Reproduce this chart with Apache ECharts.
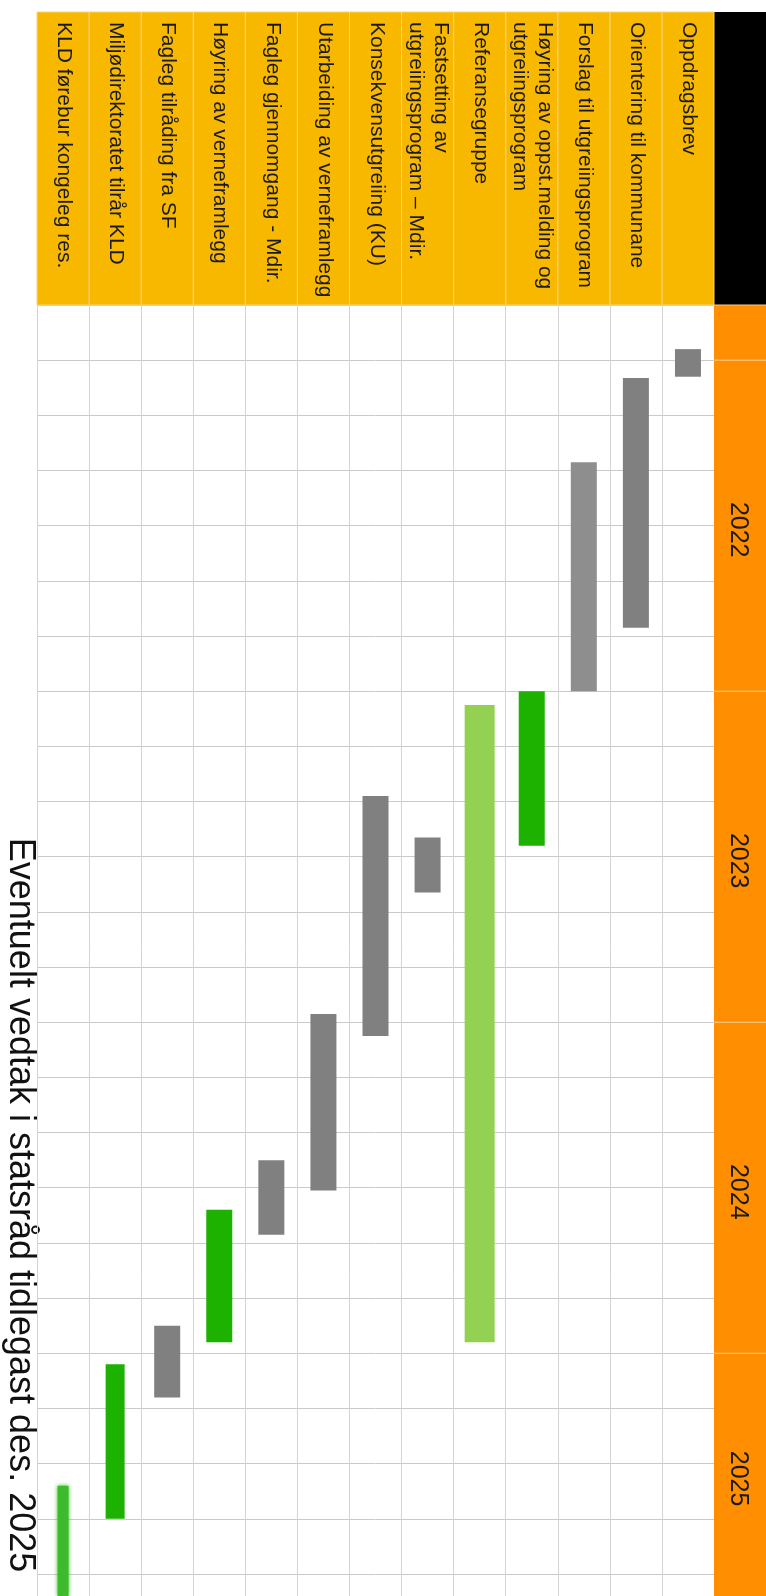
<!DOCTYPE html>
<html>
<head>
<meta charset="utf-8">
<title>Framdriftsplan</title>
<script src="https://cdn.jsdelivr.net/npm/echarts@6/dist/echarts.min.js"></script>
<style>
  html, body { margin: 0; padding: 0; background: #fff; }
  #chart { width: 766px; height: 1596px; }
</style>
</head>
<body>
<div id="chart"></div>
<script>
// oppgåver, frå høgre mot venstre
const tasks = [
    'Oppdragsbrev',
    'Orientering til kommunane',
    'Forslag til utgreiingsprogram',
    'Høyring av oppst.melding og\nutgreiingsprogram',
    'Referansegruppe',
    'Fastsetting av\nutgreiingsprogram – Mdir.',
    'Konsekvensutgreiing (KU)',
    'Utarbeiding av verneframlegg',
    'Fagleg gjennomgang - Mdir.',
    'Høyring av verneframlegg',
    'Fagleg tilråding fra SF',
    'Miljødirektoratet tilrår KLD',
    'KLD førebur kongeleg res.'
];
// start og slutt, i månader frå januar 2022
const startMonth = [-0.4, 0.65, 3.7, 12, 12.5, 17.3, 15.8, 23.7, 29, 30.8, 35, 36.4, 40.8];
const endMonth = [0.6, 9.7, 12, 17.6, 35.6, 19.3, 24.5, 30.1, 31.7, 35.6, 37.6, 42, 46];
// type aktivitet
const kinds = ['arbeid', 'arbeid', 'forslag', 'hoyring', 'gruppe', 'arbeid', 'arbeid',
    'arbeid', 'arbeid', 'hoyring', 'arbeid', 'tilraad', 'vedtak'];
const years = ['2022', '2023', '2024', '2025'];
const yearStart = [0, 12, 24, 36];
const note = 'Eventuelt vedtak i statsråd tidlegast des. 2025';

const FONT = "'Liberation Sans', Arial, sans-serif";
const LEFT = 37, RIGHT = 52, HEAD_TOP = 12, BODY_TOP = 305;
const T_MIN = -2, T_MAX = 44.8;

const kindStyle = {
    arbeid: { color: '#808080', width: 26 },
    forslag: { color: '#8e8e8e', width: 26 },
    hoyring: { color: '#1db100', width: 26 },
    gruppe: { color: '#93d152', width: 30 },
    tilraad: { color: '#1db100', width: 19 },
    vedtak: { color: '#3dbb2c', width: 11, blur: 4 }
};

// celler i årskolonna (første er tom)
const yearCells = [[T_MIN, 0]].concat(yearStart.map(s => [s, s + 12]));
const yearText = [''].concat(years);

const chart = echarts.init(document.getElementById('chart'), null, { renderer: 'canvas' });

const option = {
    animation: false,
    backgroundColor: '#fff',
    grid: [
        { left: LEFT, right: RIGHT, top: BODY_TOP, bottom: 0 },
        { right: 0, width: RIGHT, top: BODY_TOP, bottom: 0 },
        { left: LEFT, right: RIGHT, top: HEAD_TOP, height: BODY_TOP - HEAD_TOP }
    ],
    xAxis: [
        {
            gridIndex: 0, type: 'category', data: tasks, inverse: true,
            axisLine: { show: false },
            axisTick: { show: false, interval: 0 },
            axisLabel: { show: false, interval: 0 },
            splitLine: { show: true, interval: 0, lineStyle: { color: '#d4d4d4', width: 1 } }
        },
        { gridIndex: 1, type: 'value', min: 0, max: 1, show: false },
        { gridIndex: 2, type: 'category', data: tasks, inverse: true, show: false }
    ],
    yAxis: [
        {
            gridIndex: 0, type: 'value', inverse: true, min: T_MIN, max: T_MAX, interval: 2,
            axisLine: { show: false }, axisTick: { show: false }, axisLabel: { show: false },
            splitLine: { show: true, lineStyle: { color: '#cacaca', width: 1 } }
        },
        { gridIndex: 1, type: 'value', inverse: true, min: T_MIN, max: T_MAX, show: false },
        { gridIndex: 2, type: 'value', min: 0, max: 1, show: false }
    ],
    series: [
        {
            // søylene i gantt-diagrammet
            type: 'custom',
            xAxisIndex: 0,
            yAxisIndex: 0,
            data: tasks.map((t, i) => [i, startMonth[i], endMonth[i]]),
            renderItem: function (params, api) {
                const i = params.dataIndex;
                const s = kindStyle[kinds[i]];
                const p0 = api.coord([api.value(0), api.value(1)]);
                const p1 = api.coord([api.value(0), api.value(2)]);
                const cs = params.coordSys;
                const rect = echarts.graphic.clipRectByRect(
                    { x: p0[0] - s.width / 2, y: p0[1], width: s.width, height: p1[1] - p0[1] },
                    { x: cs.x, y: cs.y, width: cs.width, height: cs.height }
                );
                if (!rect) return;
                return {
                    type: 'rect',
                    shape: rect,
                    style: { fill: s.color, shadowBlur: s.blur || 0, shadowColor: s.color }
                };
            }
        },
        {
            // årskolonna til høgre
            type: 'custom',
            xAxisIndex: 1,
            yAxisIndex: 1,
            data: yearCells,
            renderItem: function (params, api) {
                const cs = params.coordSys;
                const a = api.coord([0, api.value(0)]);
                const b = api.coord([0, api.value(1)]);
                const y0 = Math.max(a[1], cs.y);
                const y1 = Math.min(b[1], cs.y + cs.height);
                return {
                    type: 'group',
                    children: [
                        {
                            type: 'rect',
                            shape: { x: cs.x, y: y0, width: cs.width, height: y1 - y0 },
                            style: { fill: '#ff8f00' }
                        },
                        {
                            type: 'line',
                            shape: { x1: cs.x, y1: y0, x2: cs.x + cs.width, y2: y0 },
                            style: { stroke: '#ffc98a', lineWidth: 1 }
                        },
                        {
                            type: 'text',
                            x: cs.x + cs.width / 2 - 2,
                            y: (y0 + y1) / 2 + 4,
                            rotation: -Math.PI / 2,
                            style: {
                                text: yearText[params.dataIndex],
                                fontFamily: FONT, fontSize: 25, fill: '#1a1a1a',
                                align: 'center', verticalAlign: 'middle'
                            }
                        }
                    ]
                };
            }
        },
        {
            // overskriftene (roterte)
            type: 'custom',
            xAxisIndex: 2,
            yAxisIndex: 2,
            data: tasks.map((t, i) => [i, 1]),
            renderItem: function (params, api) {
                const cs = params.coordSys;
                const c = api.coord([api.value(0), 1]);
                const w = api.size([1, 0])[0];
                return {
                    type: 'group',
                    children: [
                        {
                            type: 'rect',
                            shape: { x: c[0] - w / 2, y: cs.y, width: w, height: cs.height },
                            style: { fill: '#f8b800', stroke: '#f8d37a', lineWidth: 1 }
                        },
                        {
                            type: 'text',
                            x: c[0] + 1,
                            y: cs.y + 10,
                            rotation: -Math.PI / 2,
                            style: {
                                text: tasks[params.dataIndex],
                                fontFamily: FONT, fontSize: 21, lineHeight: 25, fill: '#1a1a1a',
                                align: 'left', verticalAlign: 'middle'
                            }
                        }
                    ]
                };
            }
        }
    ],
    graphic: [
        {
            type: 'rect',
            x: 766 - RIGHT, y: HEAD_TOP,
            shape: { width: RIGHT, height: BODY_TOP - HEAD_TOP },
            style: { fill: '#000' }
        },
        {
            type: 'text',
            x: 20, y: 1205,
            rotation: -Math.PI / 2,
            style: {
                text: note, fontFamily: FONT, fontSize: 36, fill: '#111',
                align: 'center', verticalAlign: 'middle'
            }
        }
    ]
};

chart.setOption(option);
</script>
</body>
</html>
